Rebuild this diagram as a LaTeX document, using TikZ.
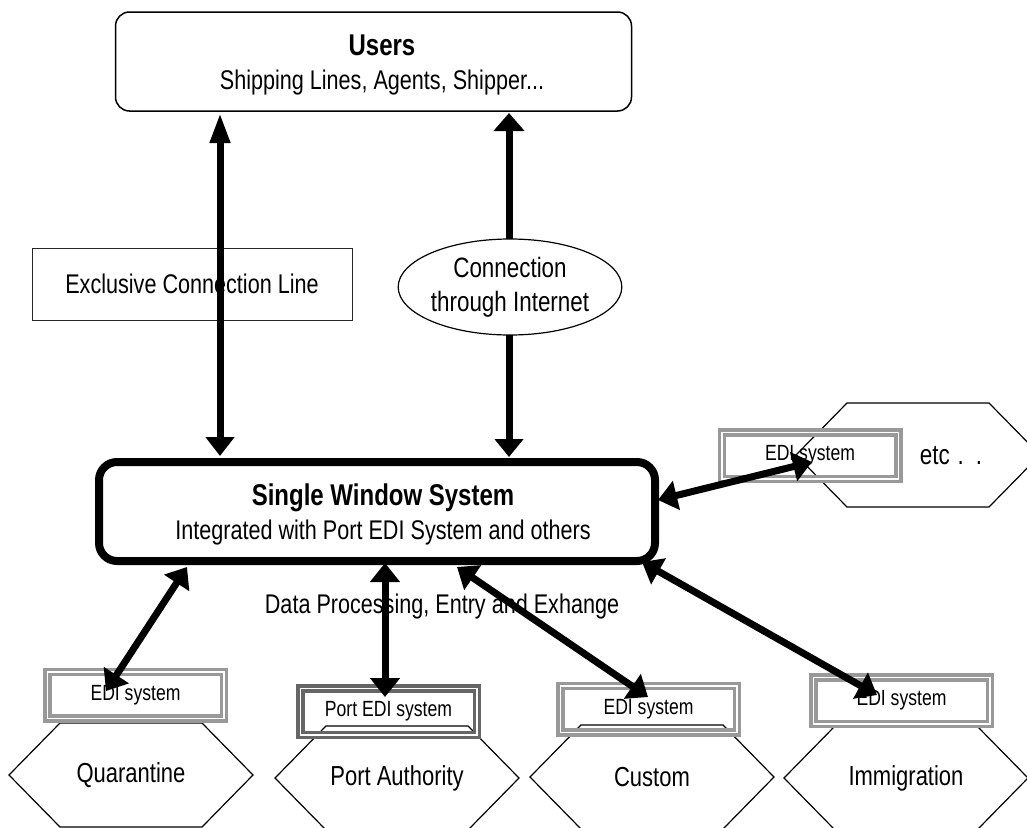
\documentclass[tikz,border=0pt]{standalone}
\usepackage{fontspec}
\setmainfont{Liberation Sans}[FakeStretch=0.8]
\usetikzlibrary{arrows.meta,shapes.geometric,calc}

% outline of a flattened hexagon around a named point
\newcommand\hexagonat[1]{%
  \draw[hexline] ($(#1)+(-122,0)$) -- ($(#1)+(-71,-52)$) -- ($(#1)+(71,-52)$)
    -- ($(#1)+(122,0)$) -- ($(#1)+(71,52)$) -- ($(#1)+(-71,52)$) -- cycle;}

\begin{document}
\begin{tikzpicture}[x=1pt,y=-1pt,
  every node/.style={inner sep=0pt, outer sep=0pt},
  txt/.style={font=\fontsize{27}{34}\selectfont, align=center},
  hexlabel/.style={font=\fontsize{27.5}{30}\selectfont},
  userbox/.style={draw, line width=1.5pt, rounded corners=14pt},
  swsbox/.style={draw, line width=8pt, rounded corners=18pt},
  linebox/.style={draw=black!85, line width=0.9pt, txt},
  netellipse/.style={ellipse, draw, line width=1.2pt, txt, font=\fontsize{28}{34}\selectfont},
  hexline/.style={draw, line width=1.2pt},
  edibox/.style={draw=#1, line width=3.5pt, double=white, double distance=1.5pt,
    minimum width=176.5, minimum height=46.5, font=\fontsize{22}{24}\selectfont},
  edibox/.default=black!40,
  link/.style={line width=7pt, {Triangle[length=19pt,width=29pt]}-{Triangle[length=19pt,width=29pt]}},
]
\path[use as bounding box, clip] (0,0) rectangle (1027,827);

% connection media between users and the single window
\node[linebox, minimum width=320, minimum height=72] (excl) at (192,284) {Exclusive Connection Line};
\node[netellipse, minimum width=207, minimum height=96] (net) at (510,287) {Connection\\through Internet};

% main boxes
\node[userbox, minimum width=516, minimum height=99] (users) at (373.5,61.5) {};
\node[txt] (userstext) at (382,64.5)
  {{\bfseries\fontsize{30}{34}\selectfont Users}\\Shipping Lines, Agents, Shipper...};
\node[swsbox, minimum width=556, minimum height=99] (sws) at (377,511.5) {};
\node[txt] (swstext) at (383,514.5)
  {{\bfseries\fontsize{30}{34}\selectfont Single Window System}\\Integrated with Port EDI System and others};

\node[txt] (data) at (442,607) {Data Processing, Entry and Exhange};

% agencies
\node[hexlabel] (quar) at (131,775) {Quarantine};
\node[hexlabel] (port) at (397,778) {Port Authority};
\node[hexlabel] (cust) at (652,777) {Custom};
\node[hexlabel] (immi) at (906,778) {Immigration};
\coordinate (etchex) at (918,455);
\node[hexlabel, font=\fontsize{28}{30}\selectfont] (etc) at (951,456) {etc\hspace{8pt}.\hspace{12pt}.};
\hexagonat{quar}
\hexagonat{port}
\hexagonat{cust}
\hexagonat{immi}
\hexagonat{etchex}

% EDI systems of the agencies
\node[edibox] (qedi) at (135.5,695) {EDI system};
\node[edibox=black!60] (pedi) at (388.5,711.5) {Port EDI system};
\node[edibox] (cedi) at (648.5,709) {EDI system};
\node[edibox] (iedi) at (901.5,700.5) {EDI system};
\node[edibox] (eedi) at (810,455.5) {EDI system};

% arrow end points
\coordinate (uL) at (220,113);
\coordinate (sL) at (220,456);
\coordinate (uR) at (509,113);
\coordinate (sR) at (509,457);
\coordinate (netT) at (509,239);
\coordinate (netB) at (509,335);
\coordinate (sQ) at (187,567);
\coordinate (eQ) at (106,691);
\coordinate (sP) at (385,563);
\coordinate (eP) at (385,697);
\coordinate (sC) at (457,567);
\coordinate (eC) at (648,697);
\coordinate (sI) at (642,562);
\coordinate (eI) at (877,695);
\coordinate (sE) at (658,500);
\coordinate (eE) at (812,462);

% links to the users
\draw[line width=7pt, {Triangle[length=19pt,width=28pt]}-{Triangle[length=30pt,width=19pt]}] (sL) -- (uL);
\draw[line width=7pt, -{Triangle[length=18pt,width=30pt]}] (netT) -- (uR);
\draw[line width=7pt, -{Triangle[length=18pt,width=28pt]}] (netB) -- (sR);

% links to the agencies
\draw[link] (sQ) -- (eQ);
\draw[link] (sP) -- (eP);
\draw[link] (sC) -- (eC);
\draw[link] (sI) -- (eI);
\draw[link] (sE) -- (eE);
\end{tikzpicture}
\end{document}
